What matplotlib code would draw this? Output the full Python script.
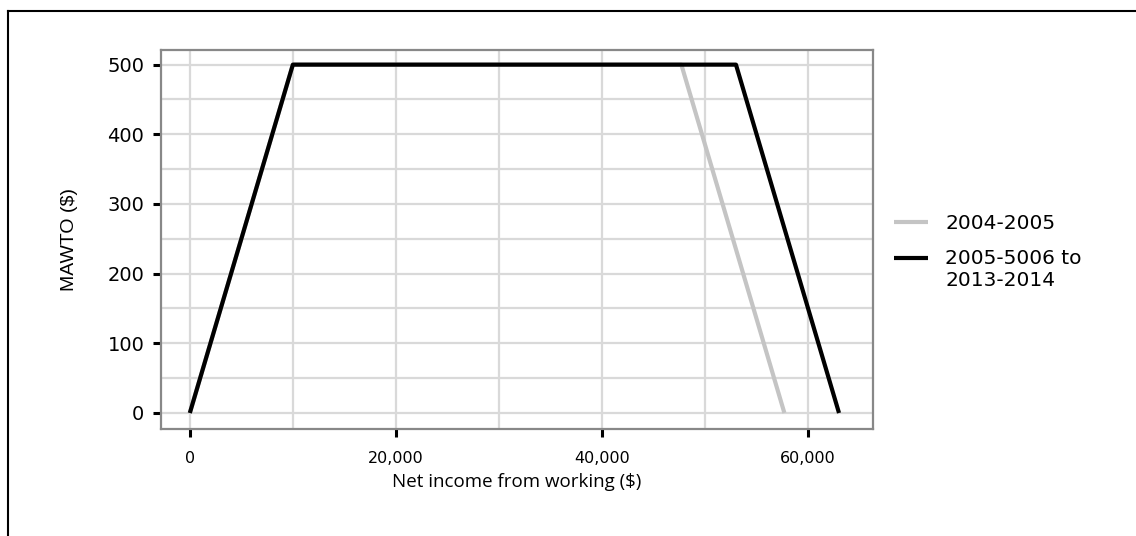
import matplotlib; matplotlib.use("Agg")
import matplotlib.pyplot as plt
from matplotlib.lines import Line2D
from matplotlib.ticker import FuncFormatter, MultipleLocator

# MAWTO schedules (income $, MAWTO $)
inc_0405 = [0, 10000, 47700, 57700]
mawto_0405 = [0, 500, 500, 0]
inc_0614 = [0, 10000, 53000, 63000]
mawto_0614 = [0, 500, 500, 0]
labels = ["2004-2005", "2005-5006 to\n2013-2014"]

plt.rcParams["font.family"] = ["DejaVu Sans"]
fig = plt.figure(figsize=(11.36, 5.36), dpi=100)
ax = fig.add_axes([0.1417, 0.1996, 0.6268, 0.7071])

ax.plot(inc_0405, mawto_0405, color="#c4c4c4", lw=3, label=labels[0], solid_capstyle="butt")
ax.plot(inc_0614, mawto_0614, color="black", lw=3, label=labels[1], solid_capstyle="butt")

ax.set_xlim(-2800, 66300)
ax.set_ylim(-23, 521)
ax.xaxis.set_major_locator(MultipleLocator(20000))
ax.xaxis.set_minor_locator(MultipleLocator(10000))
ax.yaxis.set_major_locator(MultipleLocator(100))
ax.yaxis.set_minor_locator(MultipleLocator(50))
ax.xaxis.set_major_formatter(FuncFormatter(lambda v, p: f"{int(v):,}"))
ax.grid(which="both", color="#d9d9d9", lw=1.6)
ax.set_axisbelow(True)
ax.tick_params(which="major", length=6, width=2.2, color="black")
ax.tick_params(axis="x", labelsize=11.5, pad=10)
ax.tick_params(axis="y", labelsize=14, pad=6)
ax.tick_params(which="minor", length=0)
for s in ax.spines.values():
    s.set_color("#888888"); s.set_linewidth(1.6)

ax.set_xlabel("Net income from working ($)", fontsize=13.5, family=["Open Sans", "DejaVu Sans"], labelpad=5)
ax.set_ylabel("MAWTO ($)", fontsize=14, family=["Liberation Sans"], labelpad=21)

leg = ax.legend(loc="center left", bbox_to_anchor=(0.99, 0.467), frameon=False, fontsize=14.5,
                handlelength=1.7, handletextpad=0.85, labelspacing=0.75, borderaxespad=1.0)
# align the handle of the two-line entry with its first line
h = leg.legend_handles[1]
h.set_ydata([y + 8 for y in h.get_ydata()])

# outer border (top and left only)
fig.add_artist(Line2D([8/1136, 1], [1 - 11/536, 1 - 11/536], color="black", lw=1.5))
fig.add_artist(Line2D([8/1136, 8/1136], [0, 1 - 11/536], color="black", lw=1.5))

plt.savefig("out.png", dpi=100)
plt.close()
